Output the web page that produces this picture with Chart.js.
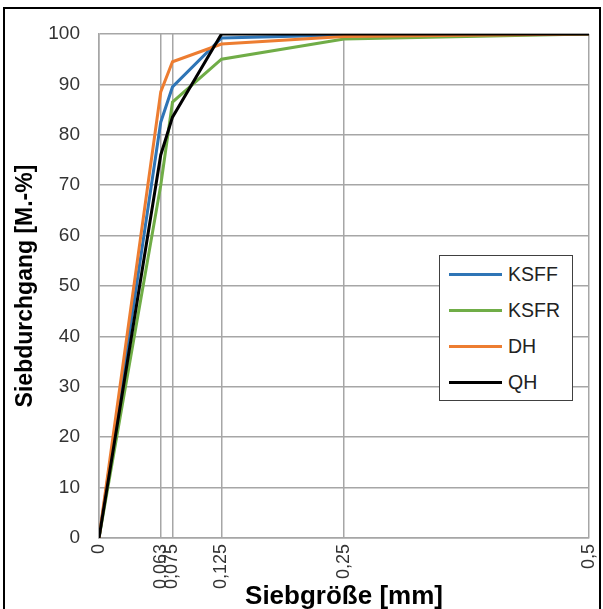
<!DOCTYPE html>
<html>
<head>
<meta charset="utf-8">
<script src="https://cdn.jsdelivr.net/npm/chart.js@4"></script>
<style>
  html, body { margin: 0; padding: 0; background: #fff; }
  body { width: 603px; height: 609px; position: relative; overflow: hidden; font-family: "Liberation Sans", Arial, sans-serif; }
  #frame { position: absolute; left: 3px; top: 7px; width: 594px; height: 620px; border: 2px solid #000; }
  #wrap { position: absolute; left: 0; top: 0; width: 603px; height: 609px; }
  #legend { position: absolute; left: 439px; top: 255px; width: 132px; height: 144px; border: 1.5px solid #404040; background: #fff; }
  .item { position: absolute; left: 9px; height: 20px; display: flex; align-items: center; }
  .item span.line { display: inline-block; width: 53px; height: 3px; margin-right: 6px; }
  .item span.txt { font-size: 19.5px; color: #222; }
</style>
</head>
<body>
<div id="frame"></div>
<div id="wrap"><canvas id="sieveChart" width="603" height="609"></canvas></div>
<div id="legend"></div>
<script>
const sieveSizes = [0, 0.063, 0.075, 0.125, 0.25, 0.5];
const seriesNames = ["KSFF", "KSFR", "DH", "QH"];
const ksff = [0, 82.5, 89.5, 99.2, 99.8, 100];
const ksfr = [0, 70, 86.5, 95, 99, 100];
const dh = [0, 88.5, 94.5, 98, 99.5, 100];
const qh = [0, 76, 83.5, 100, 100, 100];
const yTicks = [0, 10, 20, 30, 40, 50, 60, 70, 80, 90, 100];

const colors = ["#2e75b6", "#70ad47", "#ed7d31", "#000000"];
const values = [ksff, ksfr, dh, qh];
const drawOrder = [3, 2, 1, 0];

const datasets = seriesNames.map((name, i) => ({
  label: name,
  data: sieveSizes.map((x, j) => ({ x: x, y: values[i][j] })),
  borderColor: colors[i],
  backgroundColor: colors[i],
  borderWidth: 3,
  pointRadius: 0,
  tension: 0,
  order: drawOrder[i],
}));

const gridColor = "#a6a6a6";

new Chart(document.getElementById("sieveChart"), {
  type: "line",
  data: { datasets },
  options: {
    responsive: false,
    animation: false,
    layout: { padding: { left: 4, top: 34, right: 14, bottom: 0 } },
    plugins: { legend: { display: false }, tooltip: { enabled: false } },
    scales: {
      x: {
        type: "linear",
        min: 0,
        max: 0.5,
        afterBuildTicks: (scale) => { scale.ticks = sieveSizes.map((v) => ({ value: v })); },
        afterFit: (scale) => {
          scale.height = 71;
          scale.paddingLeft = 0;
          scale.paddingRight = 0;
        },
        grid: { color: gridColor, lineWidth: 1.5, drawTicks: false },
        border: { color: gridColor, width: 1.5 },
        ticks: {
          minRotation: 90,
          maxRotation: 90,
          padding: 6,
          color: "#333",
          font: { family: "Liberation Sans", size: 18 },
          callback: (v) => String(v).replace(".", ","),
        },
        title: {
          display: true,
          text: "Siebgröße [mm]",
          color: "#000",
          font: { family: "Liberation Sans", size: 26, weight: "bold", lineHeight: 1 },
          padding: { top: 0, bottom: -1 },
        },
      },
      y: {
        min: 0,
        max: 100,
        afterBuildTicks: (scale) => { scale.ticks = yTicks.map((v) => ({ value: v })); },
        afterFit: (scale) => { scale.width = 95; },
        grid: { color: gridColor, lineWidth: 1.5, drawTicks: false },
        border: { color: gridColor, width: 1.5 },
        ticks: { padding: 19, color: "#333", font: { family: "Liberation Sans", size: 19 } },
        title: {
          display: true,
          text: "Siebdurchgang [M.-%]",
          color: "#000",
          font: { family: "Liberation Sans", size: 23, weight: "bold", lineHeight: 1.2 },
          padding: { top: 8, bottom: 0 },
        },
      },
    },
  },
});

const legendEl = document.getElementById("legend");
seriesNames.forEach((name, i) => {
  const item = document.createElement("div");
  item.className = "item";
  item.style.top = (8 + i * 36) + "px";
  item.innerHTML = `<span class="line" style="background:${colors[i]}"></span><span class="txt">${name}</span>`;
  legendEl.appendChild(item);
});
</script>
</body>
</html>
